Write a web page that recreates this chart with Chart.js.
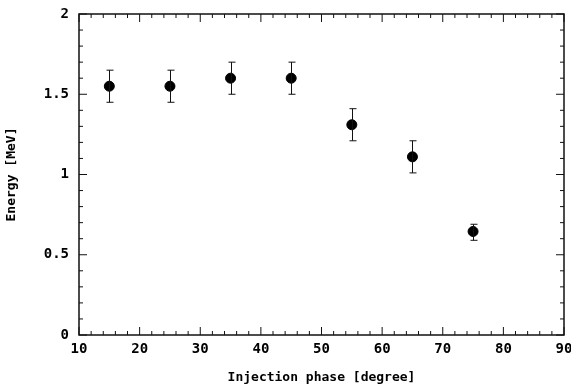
<!DOCTYPE html>
<html>
<head>
<meta charset="utf-8">
<script src="https://cdn.jsdelivr.net/npm/chart.js@4"></script>
<style>
  html, body { margin: 0; padding: 0; background: #fff; }
  #wrap { width: 571px; height: 385px; }
</style>
</head>
<body>
<div id="wrap"><canvas id="chart"></canvas></div>
<script>
// injection phase (degree) vs energy (MeV)
const phases   = [15, 25, 35, 45, 55, 65, 75];
const energies = [1.55, 1.55, 1.60, 1.60, 1.31, 1.11, 0.645];
const errHigh  = [1.65, 1.65, 1.70, 1.70, 1.41, 1.21, 0.69];
const errLow   = [1.45, 1.45, 1.50, 1.50, 1.21, 1.01, 0.59];

const xTicks = [10, 20, 30, 40, 50, 60, 70, 80, 90];
const yTicks = [0, 0.5, 1, 1.5, 2];

const FONT = "'DejaVu Sans Mono', monospace";

// error bars + frame + inward ticks
const extras = {
  id: 'extras',
  afterDatasetsDraw(chart) {
    const ctx = chart.ctx;
    const xs = chart.scales.x, ys = chart.scales.y;
    const a = chart.chartArea;
    ctx.save();
    ctx.strokeStyle = '#111';
    ctx.lineWidth = 1;

    // error bars
    phases.forEach((p, i) => {
      const px = Math.round(xs.getPixelForValue(p)) + 0.5;
      const top = ys.getPixelForValue(errHigh[i]);
      const bot = ys.getPixelForValue(errLow[i]);
      ctx.beginPath();
      ctx.moveTo(px, top); ctx.lineTo(px, bot);
      ctx.moveTo(px - 3, top); ctx.lineTo(px + 4, top);
      ctx.moveTo(px - 3, bot); ctx.lineTo(px + 4, bot);
      ctx.stroke();
    });

    // frame
    ctx.lineWidth = 1.5;
    ctx.strokeRect(a.left, a.top, a.right - a.left, a.bottom - a.top);

    // ticks
    ctx.lineWidth = 1;
    ctx.beginPath();
    for (let v = 10; v <= 90.001; v += 2) {
      const px = xs.getPixelForValue(v);
      const len = (Math.abs(v % 10) < 0.01) ? 8 : 4;
      ctx.moveTo(px, a.bottom); ctx.lineTo(px, a.bottom - len);
      ctx.moveTo(px, a.top); ctx.lineTo(px, a.top + len);
    }
    for (let k = 0; k <= 20; k++) {
      const v = k / 10;
      const py = ys.getPixelForValue(v);
      const len = (k % 5 === 0) ? 8 : 4;
      ctx.moveTo(a.left, py); ctx.lineTo(a.left + len, py);
      ctx.moveTo(a.right, py); ctx.lineTo(a.right - len, py);
    }
    ctx.stroke();
    ctx.restore();
  }
};

new Chart(document.getElementById('chart'), {
  type: 'scatter',
  data: {
    datasets: [{
      data: phases.map((p, i) => ({ x: p, y: energies[i] })),
      backgroundColor: '#000',
      borderColor: '#000',
      pointRadius: 5,
      pointHoverRadius: 5
    }]
  },
  options: {
    responsive: true,
    maintainAspectRatio: false,
    animation: false,
    layout: { padding: { left: 0, right: 7, top: 14, bottom: 0 } },
    plugins: { legend: { display: false }, tooltip: { enabled: false } },
    scales: {
      x: {
        type: 'linear', min: 10, max: 90,
        afterBuildTicks(s) { s.ticks = xTicks.map(v => ({ value: v })); },
        afterFit(s) { s.height = 50; s.paddingLeft = 0; s.paddingRight = 0; },
        grid: { display: false, drawTicks: false },
        border: { display: false },
        ticks: { color: '#000', padding: 6, font: { family: FONT, size: 14, weight: 'bold' } },
        title: { display: true, text: 'Injection phase [degree]', color: '#000', padding: { top: 3, bottom: 0 },
                 font: { family: FONT, size: 13, weight: 'bold' } }
      },
      y: {
        type: 'linear', min: 0, max: 2,
        afterBuildTicks(s) { s.ticks = yTicks.map(v => ({ value: v })); },
        afterFit(s) { s.width = 79; s.paddingTop = 0; s.paddingBottom = 0; },
        grid: { display: false, drawTicks: false },
        border: { display: false },
        ticks: { color: '#000', padding: 10, font: { family: FONT, size: 14, weight: 'bold' },
                 callback: v => String(v) },
        title: { display: true, text: 'Energy [MeV]', color: '#000', padding: { top: 4, bottom: 14 },
                 font: { family: FONT, size: 13, weight: 'bold' } }
      }
    }
  },
  plugins: [extras]
});
</script>
</body>
</html>
